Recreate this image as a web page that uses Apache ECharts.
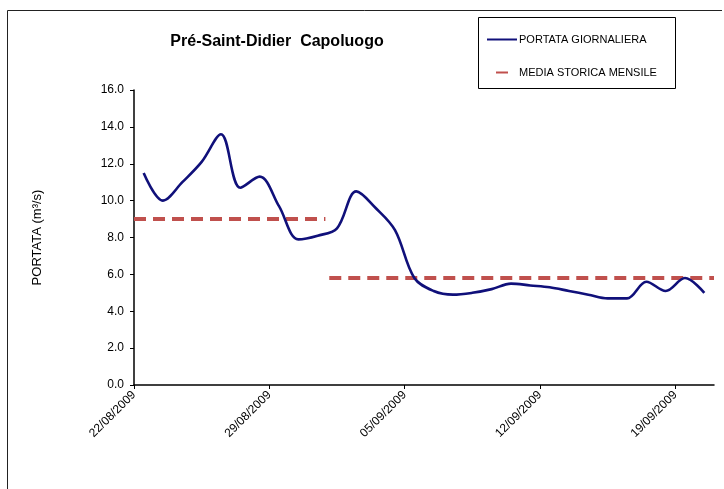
<!DOCTYPE html>
<html>
<head>
<meta charset="utf-8">
<script src="https://cdn.jsdelivr.net/npm/echarts@6/dist/echarts.min.js"></script>
<style>
html,body{margin:0;padding:0;background:#fff;}
#chart{width:724px;height:489px;}
</style>
</head>
<body>
<div id="chart"></div>
<script>
// portata giornaliera 22/08/2009 - 20/09/2009 (m3/s)
var startDate = new Date(2009, 7, 22);
var portata = [11.5, 10.0, 11.0, 12.1, 13.6, 10.7, 11.3, 9.7, 7.9, 8.1,
               8.5, 10.5, 9.6, 8.4, 5.8, 5.1, 4.9, 5.0, 5.2, 5.5,
               5.4, 5.3, 5.1, 4.9, 4.7, 4.7, 5.6, 5.1, 5.8, 5.0];
// media storica mensile: agosto (giorni 0-10), settembre (giorni 10-30)
var mediaMesi = ['agosto', 'settembre'];
var mediaValori = [9.0, 5.8];
var mediaDa = [0, 10.1];
var mediaA = [9.9, 30];
var tickGiorni = [0, 7, 14, 21, 28];
var yTicks = [0, 2, 4, 6, 8, 10, 12, 14, 16];

function pad(n){ return (n < 10 ? '0' : '') + n; }
function dayLabel(v){
    var d = new Date(startDate.getTime());
    d.setDate(d.getDate() + Math.round(v));
    return pad(d.getDate()) + '/' + pad(d.getMonth() + 1) + '/' + d.getFullYear();
}

var lineData = [];
for (var i = 0; i < portata.length; i++) {
    lineData.push([i + 0.5, portata[i]]);
}

var series = [{
    name: 'PORTATA GIORNALIERA',
    type: 'line',
    data: lineData,
    smooth: 0.35,
    symbol: 'none',
    lineStyle: {color: '#10107a', width: 2.6},
    itemStyle: {color: '#10107a'},
    z: 3
}];
for (var m = 0; m < mediaMesi.length; m++) {
    series.push({
        name: 'MEDIA STORICA MENSILE',
        type: 'line',
        data: [[mediaDa[m], mediaValori[m]], [mediaA[m], mediaValori[m]]],
        symbol: 'none',
        lineStyle: {color: '#c0504d', width: 4, type: [12, 7]},
        itemStyle: {color: '#c0504d'},
        z: 2
    });
}

var chart = echarts.init(document.getElementById('chart'));
chart.setOption({
    animation: false,
    backgroundColor: '#fff',
    title: {
        text: 'Pré-Saint-Didier  Capoluogo',
        left: 272, top: 29, textAlign: 'center',
        textStyle: {fontFamily: 'Liberation Sans, Arial', fontSize: 16, fontWeight: 'bold', color: '#000'}
    },
    graphic: [
        {type: 'line', shape: {x1: 7.5, y1: 10.5, x2: 7.5, y2: 489}, style: {stroke: '#222', lineWidth: 1}},
        {type: 'line', shape: {x1: 7.5, y1: 10.5, x2: 722, y2: 10.5}, style: {stroke: '#222', lineWidth: 1}},
        {type: 'rect', shape: {x: 478.5, y: 17.5, width: 197, height: 71}, style: {fill: 'none', stroke: '#000', lineWidth: 1}}
    ],
    legend: {
        orient: 'vertical',
        left: 482, top: 29,
        itemGap: 22,
        itemWidth: 30, itemHeight: 2,
        data: [
            {name: 'PORTATA GIORNALIERA', icon: 'rect'},
            {name: 'MEDIA STORICA MENSILE', icon: 'path://M12,0 L18,0 L18,1 L12,1 Z'}
        ],
        textStyle: {fontFamily: 'Liberation Sans, Arial', fontSize: 11, color: '#000', padding: [0, 0, 0, -3]}
    },
    grid: {left: 134, right: 10, top: 90, bottom: 104},
    xAxis: {
        type: 'value',
        min: 0, max: 30, interval: 7,
        splitLine: {show: false},
        axisLine: {lineStyle: {color: '#000', width: 1.5}},
        axisTick: {show: true, length: 4, customValues: tickGiorni, lineStyle: {color: '#000'}},
        axisLabel: {
            customValues: tickGiorni,
            rotate: 45, margin: 8,
            fontFamily: 'Liberation Sans, Arial', fontSize: 12, color: '#000',
            formatter: function (v) { return dayLabel(v); }
        }
    },
    yAxis: {
        type: 'value',
        min: 0, max: 16, interval: 2,
        name: 'PORTATA (m³/s)',
        nameLocation: 'middle', nameGap: 90,
        nameTextStyle: {fontFamily: 'Liberation Sans, Arial', fontSize: 13, color: '#000'},
        splitLine: {show: false},
        axisLine: {show: true, lineStyle: {color: '#000', width: 1.5}},
        axisTick: {show: true, inside: false, length: 4, lineStyle: {color: '#000'}},
        axisLabel: {
            customValues: yTicks,
            margin: 10,
            fontFamily: 'Liberation Sans, Arial', fontSize: 12, color: '#000',
            formatter: function (v) { return v.toFixed(1); }
        }
    },
    series: series
});
</script>
</body>
</html>
